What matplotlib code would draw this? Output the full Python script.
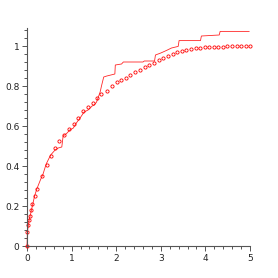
import matplotlib
matplotlib.use("Agg")
import matplotlib.pyplot as plt
from matplotlib.ticker import MultipleLocator, FixedLocator

# empirical curve (jagged line)
emp_x = [0, 0.01, 0.03, 0.05, 0.07, 0.10, 0.13, 0.17, 0.22, 0.30, 0.36, 0.43,
         0.53, 0.63, 0.70, 0.78, 0.81, 0.89, 0.96, 1.04, 1.09, 1.19, 1.28,
         1.37, 1.46, 1.51, 1.56, 1.64, 1.67, 1.72, 1.79, 1.97, 1.98, 2.12,
         2.16, 2.60, 2.63, 2.86, 2.88, 3.00, 3.13, 3.24, 3.39, 3.41, 3.89,
         3.91, 4.31, 4.33, 4.98]
emp_y = [0, 0.07, 0.105, 0.13, 0.15, 0.18, 0.21, 0.25, 0.285, 0.33, 0.36, 0.41,
         0.455, 0.48, 0.49, 0.495, 0.55, 0.563, 0.58, 0.59, 0.61, 0.64, 0.67,
         0.68, 0.70, 0.705, 0.72, 0.77, 0.80, 0.845, 0.85, 0.86, 0.905, 0.91,
         0.92, 0.92, 0.925, 0.925, 0.955, 0.965, 0.978, 0.99, 0.998, 1.027, 1.027,
         1.05, 1.055, 1.073, 1.073]

# fitted curve (circles)
fit_x = [0, 0.01, 0.03, 0.05, 0.07, 0.10, 0.12, 0.17, 0.22, 0.33, 0.44, 0.54,
         0.63, 0.72, 0.84, 0.95, 1.05, 1.15, 1.26, 1.37, 1.47, 1.56, 1.67,
         1.79, 1.90, 2.01, 2.11, 2.21, 2.32, 2.43, 2.53, 2.64, 2.74, 2.85,
         2.96, 3.06, 3.16, 3.27, 3.37, 3.47, 3.57, 3.68, 3.78, 3.88, 3.98,
         4.08, 4.19, 4.29, 4.39, 4.49, 4.59, 4.70, 4.80, 4.90, 5.00]
fit_y = [0, 0.07, 0.105, 0.13, 0.15, 0.18, 0.21, 0.25, 0.285, 0.35, 0.405, 0.45,
         0.49, 0.527, 0.555, 0.585, 0.61, 0.64, 0.675, 0.697, 0.715, 0.738, 0.76,
         0.777, 0.80, 0.818, 0.83, 0.842, 0.855, 0.868, 0.88, 0.893, 0.905, 0.917,
         0.93, 0.94, 0.95, 0.96, 0.968, 0.975, 0.98, 0.985, 0.99, 0.992, 0.994,
         0.995, 0.996, 0.997, 0.997, 0.998, 0.998, 0.999, 0.999, 0.999, 0.999]

fig = plt.figure(figsize=(2.78, 2.78), dpi=100)
ax = fig.add_axes([27/278, 32/278, 223/278, 218/278])

ax.plot(emp_x, emp_y, color="red", lw=0.6, alpha=0.85, clip_on=False)
ax.plot(fit_x, fit_y, ls="none", marker="o", ms=2.3, mfc="none", mec="red",
        mew=0.6, clip_on=False)

ax.set_xlim(0, 5)
ax.set_ylim(0, 1.09)
for s in ["top", "right"]:
    ax.spines[s].set_visible(False)
for s in ["left", "bottom"]:
    ax.spines[s].set_color("#555555")
    ax.spines[s].set_linewidth(0.8)

ax.xaxis.set_major_locator(MultipleLocator(1))
ax.xaxis.set_minor_locator(MultipleLocator(0.2))
ax.yaxis.set_major_locator(FixedLocator([0, 0.2, 0.4, 0.6, 0.8, 1.0]))
ax.yaxis.set_minor_locator(MultipleLocator(0.04))
ax.set_yticklabels(["0", "0.2", "0.4", "0.6", "0.8", "1"])
ax.tick_params(which="both", colors="#555555", labelcolor="#222222",
               labelsize=6.5, width=0.7, pad=2)
ax.tick_params(which="major", length=3.5)
ax.tick_params(which="minor", length=2.5)

fig.savefig("out.png", dpi=100)
